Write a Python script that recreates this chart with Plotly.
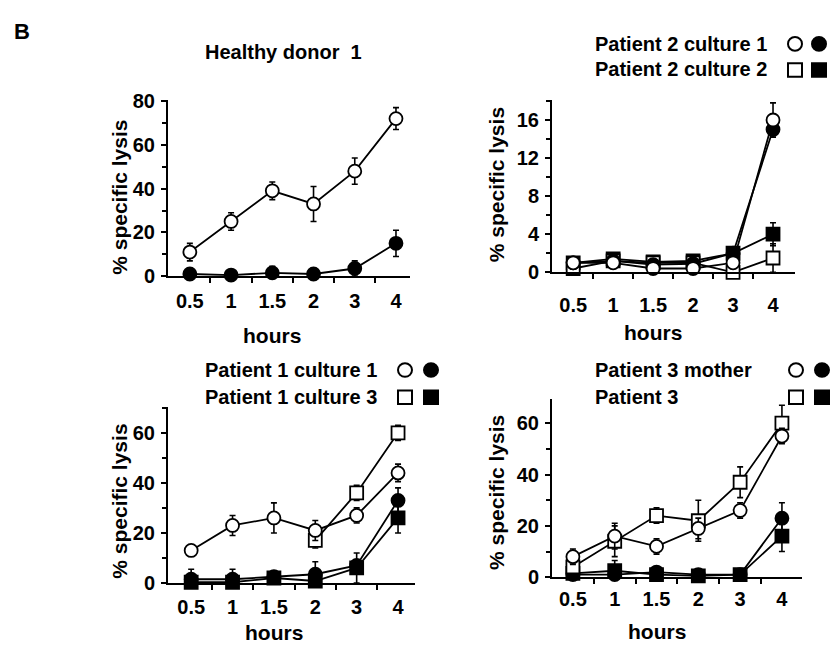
import plotly.graph_objects as go

W, H = 831, 654
FONT = "Liberation Sans, Arial, sans-serif"

hours_labels = ["0.5", "1", "1.5", "2", "3", "4"]
xi = list(range(len(hours_labels)))

# Panel 1: Healthy donor 1
hd1_open = [11, 25, 39, 33, 48, 72]
hd1_open_err = [4, 4, 4, 8, 6, 5]
hd1_filled = [1, 0.5, 1.5, 1, 3.5, 15]
hd1_filled_err = [1, 0.5, 3, 1, 3.5, 6]

# Panel 2: Patient 2
p2c1_open = [1.0, 1.0, 0.4, 0.4, 1.0, 16]
p2c1_open_err = [0.3, 0.3, 0.3, 0.3, 0.3, 1.8]
p2c1_filled = [1.0, 1.2, 0.8, 0.9, 2.0, 15]
p2c1_filled_err = [0.3, 0.3, 0.3, 0.3, 0.3, 0.5]
p2c2_open = [0.4, 1.2, 1.0, 1.0, 0.0, 1.5]
p2c2_open_err = [0.3, 0.3, 0.3, 0.3, 0.3, 1.5]
p2c2_filled = [1.0, 1.4, 1.1, 1.2, 2.0, 4.0]
p2c2_filled_err = [0.3, 0.3, 0.3, 0.3, 0.3, 1.2]

# Panel 3: Patient 1
p1c1_open = [13, 23, 26, 21, 27, 44]
p1c1_open_err = [1.5, 4, 6, 4, 3, 3.5]
p1c1_filled = [1.5, 1.5, 2.5, 3.5, 7, 33]
p1c1_filled_err = [4, 4, 1, 5, 1, 5]
p1c3_open = [None, None, None, 17, 36, 60]
p1c3_open_err = [0, 0, 0, 3, 3, 3]
p1c3_filled = [0.3, 0.3, 2.0, 0.8, 6, 26]
p1c3_filled_err = [0.5, 0.5, 0.5, 1, 6, 6]

# Panel 4: Patient 3 and mother
p3m_open = [8, 16, 12, 19, 26, 55]
p3m_open_err = [3, 5, 3, 4, 3, 3]
p3_open = [4, 14, 24, 22, 37, 60]
p3_open_err = [2, 6, 3, 8, 6, 7]
p3m_filled = [1, 1, 2, 1, 1, 23]
p3m_filled_err = [1, 1, 1, 1, 1, 6]
p3_filled = [1.5, 2.5, 1, 0.5, 1, 16]
p3_filled_err = [1, 4, 1, 1, 1, 6]


def px(x):
    return x / W


def py(y):
    return 1 - y / H


fig = go.Figure()


def add_series(n, y, err, symbol, filled):
    fig.add_trace(go.Scatter(
        x=xi, y=y, mode="lines+markers",
        xaxis="x" if n == 1 else f"x{n}", yaxis="y" if n == 1 else f"y{n}",
        line=dict(color="black", width=1.8),
        marker=dict(symbol=symbol, size=13,
                    color="black" if filled else "white",
                    line=dict(color="black", width=1.8)),
        error_y=dict(type="data", array=err, visible=True,
                     color="black", thickness=1.6, width=3),
        cliponaxis=False, showlegend=False, connectgaps=False,
    ))


add_series(1, hd1_filled, hd1_filled_err, "circle", True)
add_series(1, hd1_open, hd1_open_err, "circle", False)

add_series(2, p2c2_filled, p2c2_filled_err, "square", True)
add_series(2, p2c2_open, p2c2_open_err, "square", False)
add_series(2, p2c1_filled, p2c1_filled_err, "circle", True)
add_series(2, p2c1_open, p2c1_open_err, "circle", False)

add_series(3, p1c3_filled, p1c3_filled_err, "square", True)
add_series(3, p1c1_filled, p1c1_filled_err, "circle", True)
add_series(3, p1c3_open, p1c3_open_err, "square", False)
add_series(3, p1c1_open, p1c1_open_err, "circle", False)

add_series(4, p3_filled, p3_filled_err, "square", True)
add_series(4, p3m_filled, p3m_filled_err, "circle", True)
add_series(4, p3_open, p3_open_err, "square", False)
add_series(4, p3m_open, p3m_open_err, "circle", False)

tickfont = dict(family=FONT, size=20, color="black", weight="bold")

# panel geometry (pixels)
panels = {
    1: dict(xl=168, xr=410, yb=275, yt=93, xr_=[-0.53, 5.34], yr=[0, 80.5], dt=20, mdt=10, sto=6),
    2: dict(xl=552, xr=795, yb=271, yt=93, xr_=[-0.53, 5.55], yr=[0, 18.1], dt=4, mdt=2, sto=14),
    3: dict(xl=168, xr=415, yb=592, yt=410, xr_=[-0.56, 5.41], yr=[0, 70.4], dt=20, mdt=10, sto=5),
    4: dict(xl=552, xr=802, yb=586, yt=402, xr_=[-0.50, 5.48], yr=[0, 69.4], dt=20, mdt=10, sto=3),
}

layout = dict(
    width=W, height=H, margin=dict(l=0, r=0, t=0, b=0),
    paper_bgcolor="white", plot_bgcolor="white",
    font=dict(family=FONT, color="black"),
)

for n, p in panels.items():
    xs = "xaxis" if n == 1 else f"xaxis{n}"
    ys = "yaxis" if n == 1 else f"yaxis{n}"
    xa = "x" if n == 1 else f"x{n}"
    ya = "y" if n == 1 else f"y{n}"
    layout[xs] = dict(
        domain=[px(p["xl"]), px(p["xr"])], anchor=ya, range=p["xr_"],
        tickmode="array", tickvals=xi, ticktext=hours_labels,
        ticks="", showline=True, linecolor="black", linewidth=2,
        showgrid=False, zeroline=False, tickfont=tickfont,
        ticklabelstandoff=p["sto"],
        minor=dict(tickmode="array", tickvals=[0.5, 1.5, 2.5, 3.5, 4.5],
                   ticks="outside", ticklen=5, tickwidth=1.5, tickcolor="black"),
    )
    layout[ys] = dict(
        domain=[py(p["yb"]), py(p["yt"])], anchor=xa, range=p["yr"],
        dtick=p["dt"], tick0=0, ticks="outside", ticklen=5, tickwidth=1.5,
        tickcolor="black", showline=True, linecolor="black", linewidth=2,
        showgrid=False, zeroline=False, tickfont=tickfont, ticklabelstandoff=2,
        minor=dict(dtick=p["mdt"], tick0=0, ticks="outside", ticklen=4,
                   tickwidth=1.5, tickcolor="black"),
    )

fig.update_layout(**layout)

txt = dict(family=FONT, size=20, color="black", weight="bold")
ann = []


def note(text, x, y, xanchor="center", size=20, angle=0, xref="paper"):
    f = dict(txt)
    f["size"] = size
    ann.append(dict(text=text, x=x, y=y, xref=xref, yref="paper",
                    xanchor=xanchor, yanchor="middle", showarrow=False,
                    font=f, textangle=angle))


note("B", px(22), py(22), size=22)
note("Healthy donor\u00a0 1", px(283), py(43), size=20)

note("Patient 2 culture 1", px(593), py(35), xanchor="left")
note("Patient 2 culture 2", px(593), py(61), xanchor="left")
note("Patient 1 culture 1", px(203), py(372), xanchor="left")
note("Patient 1 culture 3", px(203), py(400), xanchor="left")
note("Patient 3 mother", px(593), py(372), xanchor="left")
note("Patient 3", px(593), py(400), xanchor="left")

# y-axis titles
note("% specific lysis", px(120), py(194), size=21, angle=-90)
note("% specific lysis", px(496), py(181), size=21, angle=-90)
note("% specific lysis", px(120), py(508), size=21, angle=-90)
note("% specific lysis", px(497), py(499), size=21, angle=-90)

# x-axis titles
note("hours", 2, py(336), size=21, xref="x")
note("hours", 2, py(333), size=21, xref="x2")
note("hours", 2, py(643), size=21, xref="x3")
note("hours", 2, py(642), size=21, xref="x4")

fig.update_layout(annotations=ann)

# legend key symbols
shapes = []


def key(kind, cx, cy, filled, r=7):
    shapes.append(dict(
        type="circle" if kind == "circle" else "rect",
        xref="paper", yref="paper",
        x0=px(cx - r), x1=px(cx + r), y0=py(cy + r), y1=py(cy - r),
        line=dict(color="black", width=2),
        fillcolor="black" if filled else "white",
    ))


for (cxo, cxf, cy1, cy2) in [(795, 819, 35, 62), (405, 431, 372, 400), (796, 822, 372, 400)]:
    key("circle", cxo, cy1, False)
    key("circle", cxf, cy1, True)
    key("rect", cxo, cy2, False)
    key("rect", cxf, cy2, True)

fig.update_layout(shapes=shapes)

fig.write_html(
    "out.html",
    config={"displayModeBar": False},
    post_script=(
        "document.documentElement.style.margin='0';"
        "document.body.style.margin='0';"
        "document.body.style.overflow='hidden';"
    ),
)
